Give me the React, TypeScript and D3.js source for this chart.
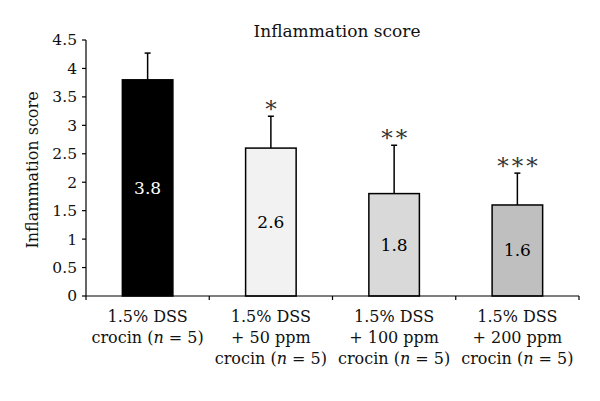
import React from "react";
import * as d3 from "d3";

const categories = ["g1", "g2", "g3", "g4"];
const labelLines = [
  ["1.5% DSS", "crocin (n = 5)"],
  ["1.5% DSS", "+ 50 ppm", "crocin (n = 5)"],
  ["1.5% DSS", "+ 100 ppm", "crocin (n = 5)"],
  ["1.5% DSS", "+ 200 ppm", "crocin (n = 5)"],
];
const values = [3.8, 2.6, 1.8, 1.6];
const errors = [0.47, 0.56, 0.85, 0.56];
const stars = ["", "*", "**", "***"];
const colors = ["#000000", "#f2f2f2", "#d9d9d9", "#bfbfbf"];
const textColors = ["#ffffff", "#000000", "#000000", "#000000"];
const yTicks = [0, 0.5, 1, 1.5, 2, 2.5, 3, 3.5, 4, 4.5];

const FONT = "'DejaVu Serif', serif";

function renderLine(s: string) {
  const m = s.match(/^(.*\()n( = 5\))$/);
  if (!m) return s;
  return (
    <>
      {m[1]}
      <tspan fontStyle="italic">n</tspan>
      {m[2]}
    </>
  );
}

export default function App() {
  const left = 86, right = 579, top = 40, bottom = 296;
  const y = d3.scaleLinear().domain([0, 4.5]).range([bottom, top]);
  const x = d3.scaleBand().domain(categories).range([left, right]).paddingInner(0.59).paddingOuter(0.295);
  const bounds = d3.range(categories.length + 1).map((i) => left + ((right - left) / categories.length) * i);

  return (
    <svg width={600} height={401} style={{ position: "absolute", left: 0, top: 0, background: "#fff" }} fontFamily={FONT}>
      <rect x={0} y={0} width={600} height={401} fill="#fff" />
      <text x={337} y={37} textAnchor="middle" fontSize={17} fill="#111">Inflammation score</text>
      <text transform={`translate(38,${(top + bottom) / 2 + 2}) rotate(-90)`} textAnchor="middle" fontSize={16} fill="#111">Inflammation score</text>
      {/* y axis */}
      <line x1={left} x2={left} y1={top} y2={bottom} stroke="#000" strokeWidth={1.2} />
      {yTicks.map((t) => (
        <g key={t}>
          <line x1={left - 4} x2={left} y1={y(t)} y2={y(t)} stroke="#000" strokeWidth={1.2} />
          <text x={left - 9} y={y(t)} dy="0.35em" textAnchor="end" fontSize={15.5} fill="#111">{t}</text>
        </g>
      ))}
      {/* bars */}
      {categories.map((c, i) => {
        const bx = x(c)!;
        const bw = x.bandwidth();
        const cx = bx + bw / 2;
        const eTop = y(values[i] + errors[i]);
        return (
          <g key={c}>
            <line x1={cx} x2={cx} y1={y(values[i])} y2={eTop} stroke="#000" strokeWidth={1.5} />
            <line x1={cx - 3} x2={cx + 3} y1={eTop} y2={eTop} stroke="#000" strokeWidth={1.5} />
            <rect x={bx} y={y(values[i])} width={bw} height={bottom - y(values[i])} fill={colors[i]} stroke="#000" strokeWidth={1.5} />
            <text x={cx} y={(y(values[i]) + bottom) / 2} dy="0.35em" textAnchor="middle" fontSize={17} fill={textColors[i]}>{values[i]}</text>
            {stars[i] && (
              <text x={cx + 1.5} y={eTop + 1} textAnchor="middle" fontSize={23} letterSpacing={3} fill="#333">{stars[i]}</text>
            )}
            {labelLines[i].map((l, j) => (
              <text key={j} x={cx} y={322 + j * 21} textAnchor="middle" fontSize={16} fill="#111">{renderLine(l)}</text>
            ))}
          </g>
        );
      })}
      {/* x axis */}
      <line x1={left} x2={right} y1={bottom} y2={bottom} stroke="#000" strokeWidth={1.2} />
      {bounds.map((b, i) => (
        <line key={i} x1={b} x2={b} y1={bottom} y2={bottom + 4} stroke="#000" strokeWidth={1.2} />
      ))}
    </svg>
  );
}
